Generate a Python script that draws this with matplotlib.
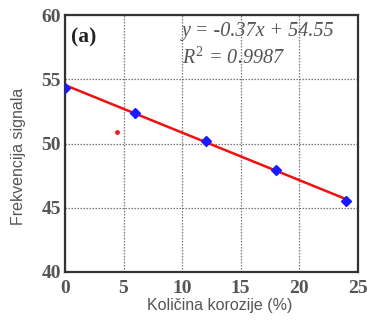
import matplotlib.pyplot as plt
import numpy as np

# podaci
korozija = [0, 6, 12, 18, 24]
frekvencija = [54.35, 52.4, 50.2, 47.95, 45.5]
izdvojena_x = [4.4]
izdvojena_y = [50.9]
nagib = -0.37
odsjecak = 54.55
x_ticks = [0, 5, 10, 15, 20, 25]
y_ticks = [40, 45, 50, 55, 60]

plt.rcParams["mathtext.fontset"] = "custom"
plt.rcParams["mathtext.it"] = "Liberation Serif:italic"
plt.rcParams["mathtext.rm"] = "Liberation Serif"

fig = plt.figure(figsize=(3.67, 3.2), dpi=100)
ax = fig.add_axes([0.177, 0.15, 0.798, 0.803])

# linija trenda
x_fit = np.array([0, 24.2])
ax.plot(x_fit, nagib * x_fit + odsjecak, color="#f01010", lw=1.8, zorder=3)

ax.plot(korozija, frekvencija, "D", color="#1a1aff", ms=5, zorder=4)
ax.plot(izdvojena_x, izdvojena_y, "o", color="#ee1c1c", ms=2.5, zorder=4)

ax.set_xlim(0, 25)
ax.set_ylim(40, 60)
ax.set_xticks(x_ticks)
ax.set_yticks(y_ticks)
ax.grid(True, linestyle=(0, (1.2, 1.2)), color="#777777", lw=0.9)
ax.tick_params(length=0, pad=3, labelsize=14, labelcolor="#555555")
ax.tick_params(axis="x", pad=6)
for lab in ax.get_xticklabels() + ax.get_yticklabels():
    lab.set_family("Liberation Serif")
    lab.set_fontweight("bold")
for s in ax.spines.values():
    s.set_linewidth(1.6)
    s.set_color("#333333")

ax.text(0.02, 0.914, "(a)", transform=ax.transAxes, family="Liberation Serif",
        fontweight="bold", fontsize=15.5, color="#222222", va="center")
ax.text(0.40, 0.934, "y = -0.37x + 54.55", transform=ax.transAxes,
        family="Liberation Serif", style="italic", fontsize=14.5,
        color="#555555", va="center")
ax.text(0.40, 0.833, r"$R^{2}$ = 0.9987", transform=ax.transAxes,
        family="Liberation Serif", style="italic", fontsize=14.5,
        color="#555555", va="center")

ax.set_xlabel("Količina korozije (%)", family="Liberation Sans",
              fontsize=11.5, color="#555555", va="center")
ax.set_ylabel("Frekvencija signala", family="Liberation Sans",
              fontsize=11.5, color="#555555", va="center")
ax.xaxis.set_label_coords(0.53, -0.13)
ax.yaxis.set_label_coords(-0.16, 0.45)

fig.savefig("out.png", dpi=100)
plt.close()
